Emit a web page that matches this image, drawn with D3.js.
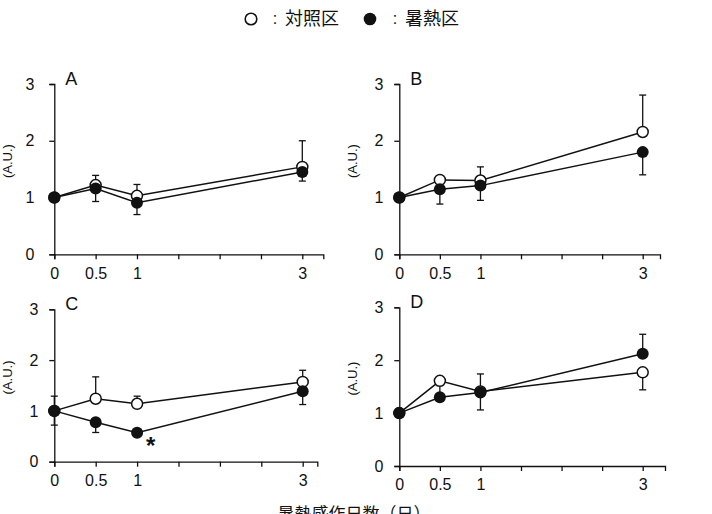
<!DOCTYPE html>
<html>
<head>
<meta charset="utf-8">
<script src="https://cdn.jsdelivr.net/npm/d3@7"></script>
<style>
  body { margin: 0; background: #fff; }
  text { font-family: "Liberation Sans", Arial, sans-serif; fill: #111; }
  .jp { font-family: "Noto Sans CJK JP", sans-serif; }
</style>
</head>
<body>
<svg width="712" height="514"></svg>
<script>
// days after heat exposure
const days = [0, 0.5, 1, 3];
const tickDays = [0, 0.5, 1, 1.5, 2, 2.5, 3];
const labelDays = [0, 0.5, 1, 3];
const yTicks = [0, 1, 2, 3];

// control (open) and heat (filled); errors: + drawn up, - drawn down
const ctrlA = [1.0, 1.22, 1.03, 1.54];
const heatA = [1.0, 1.16, 0.91, 1.45];
const ctrlErrA = [0, 0.17, 0.2, 0.46];
const heatErrA = [0, -0.23, -0.21, -0.16];

const ctrlB = [1.0, 1.31, 1.30, 2.155];
const heatB = [1.0, 1.145, 1.21, 1.80];
const ctrlErrB = [0, 0, 0.24, 0.65];
const heatErrB = [0, -0.26, -0.26, -0.40];

const ctrlC = [1.0, 1.24, 1.14, 1.57];
const heatC = [1.0, 0.775, 0.57, 1.385];
const ctrlErrC = [0.29, 0.43, 0.15, 0.23];
const heatErrC = [-0.28, -0.2, 0, -0.26];

const ctrlD = [1.0, 1.61, 1.41, 1.77];
const heatD = [1.0, 1.30, 1.39, 2.12];
const ctrlErrD = [0, 0, 0.33, -0.33];
const heatErrD = [0, 0.22, -0.33, 0.37];

const sigC = [1]; // * mark on heat series

const svg = d3.select("svg");

// legend
const lg = svg.append("g");
lg.append("circle").attr("cx", 251).attr("cy", 19).attr("r", 5.8)
  .attr("fill", "#fff").attr("stroke", "#111").attr("stroke-width", 1.6);
lg.append("text").attr("x", 275).attr("y", 24).attr("text-anchor", "middle")
  .attr("font-size", 16).text(":");
lg.append("text").attr("class", "jp").attr("x", 285).attr("y", 25)
  .attr("font-size", 18).text("対照区");
lg.append("circle").attr("cx", 370).attr("cy", 19).attr("r", 6.3).attr("fill", "#111");
lg.append("text").attr("x", 395).attr("y", 24).attr("text-anchor", "middle")
  .attr("font-size", 16).text(":");
lg.append("text").attr("class", "jp").attr("x", 405).attr("y", 25)
  .attr("font-size", 18).text("暑熱区");

const panels = [
  {name: "A", ctrl: ctrlA, heat: heatA, ce: ctrlErrA, he: heatErrA, sig: [],
   x0: 54.3, x3: 302.3, xEnd: 323.3, yTop: 84, yBot: 254.3, yPad: 15},
  {name: "B", ctrl: ctrlB, heat: heatB, ce: ctrlErrB, he: heatErrB, sig: [],
   x0: 399.3, x3: 642.7, xEnd: 660, yTop: 84, yBot: 254.3, yPad: 11},
  {name: "C", ctrl: ctrlC, heat: heatC, ce: ctrlErrC, he: heatErrC, sig: sigC,
   x0: 54.3, x3: 302.7, xEnd: 317.3, yTop: 309.3, yBot: 461.7, yPad: 11},
  {name: "D", ctrl: ctrlD, heat: heatD, ce: ctrlErrD, he: heatErrD, sig: [],
   x0: 399.3, x3: 642.7, xEnd: 665, yTop: 307.3, yBot: 466, yPad: 11}
];

panels.forEach(p => {
  const xMax = 3 * (p.xEnd - p.x0) / (p.x3 - p.x0);
  const x = d3.scaleLinear().domain([0, xMax]).range([p.x0, p.xEnd]);
  const y = d3.scaleLinear().domain([0, 3]).range([p.yBot, p.yTop]);
  const g = svg.append("g");

  const xAxis = g.append("g").attr("transform", `translate(0,${p.yBot})`)
    .call(d3.axisBottom(x).tickValues(tickDays).tickSizeOuter(0).tickSize(5).tickPadding(8)
      .tickFormat(d => labelDays.includes(d) ? String(d) : ""));
  const yAxis = g.append("g").attr("transform", `translate(${p.x0},0)`)
    .call(d3.axisLeft(y).tickValues(yTicks).tickSizeOuter(0).tickSize(5).tickPadding(p.yPad)
      .tickFormat(d3.format("d")));
  [xAxis, yAxis].forEach(a => {
    a.selectAll("path, line").attr("stroke", "#111").attr("stroke-width", 1.3);
    a.selectAll("text").attr("font-size", 16).attr("fill", "#111")
      .style("font-family", "'Liberation Sans', Arial, sans-serif");
  });

  g.append("text").attr("x", p.x0 + 11).attr("y", p.yTop + 1)
    .attr("font-size", 18).text(p.name);

  g.append("text")
    .attr("transform", `translate(${p.x0 - 42},${(p.yTop + p.yBot) / 2 - 8}) rotate(-90)`)
    .attr("text-anchor", "middle").attr("font-size", 13).attr("fill", "#333")
    .text("(A.U.)");

  const line = d3.line().x((d, i) => x(days[i])).y(d => y(d));
  [p.ctrl, p.heat].forEach(s => {
    g.append("path").datum(s).attr("d", line)
      .attr("fill", "none").attr("stroke", "#111").attr("stroke-width", 1.5);
  });

  // error bars
  [[p.ctrl, p.ce], [p.heat, p.he]].forEach(([s, e]) => {
    days.forEach((d, i) => {
      if (!e[i]) return;
      const cx = x(d), y1 = y(s[i]), y2 = y(s[i] + e[i]);
      g.append("line").attr("x1", cx).attr("x2", cx).attr("y1", y1).attr("y2", y2)
        .attr("stroke", "#111").attr("stroke-width", 1.3);
      g.append("line").attr("x1", cx - 3.5).attr("x2", cx + 3.5).attr("y1", y2).attr("y2", y2)
        .attr("stroke", "#111").attr("stroke-width", 1.3);
    });
  });

  g.selectAll(".c").data(p.ctrl).enter().append("circle")
    .attr("cx", (d, i) => x(days[i])).attr("cy", d => y(d)).attr("r", 5.5)
    .attr("fill", "#fff").attr("stroke", "#111").attr("stroke-width", 1.5);
  g.selectAll(".h").data(p.heat).enter().append("circle")
    .attr("cx", (d, i) => x(days[i])).attr("cy", d => y(d)).attr("r", 6)
    .attr("fill", "#111");

  p.sig.forEach(d => {
    const i = days.indexOf(d);
    g.append("text").attr("x", x(d) + 9).attr("y", y(p.heat[i]) + 21)
      .attr("font-size", 24).attr("font-weight", "bold").text("*");
  });
});

svg.append("text").attr("class", "jp").attr("x", 354).attr("y", 520)
  .attr("text-anchor", "middle").attr("font-size", 17).text("暑熱感作日数（日）");
</script>
</body>
</html>
